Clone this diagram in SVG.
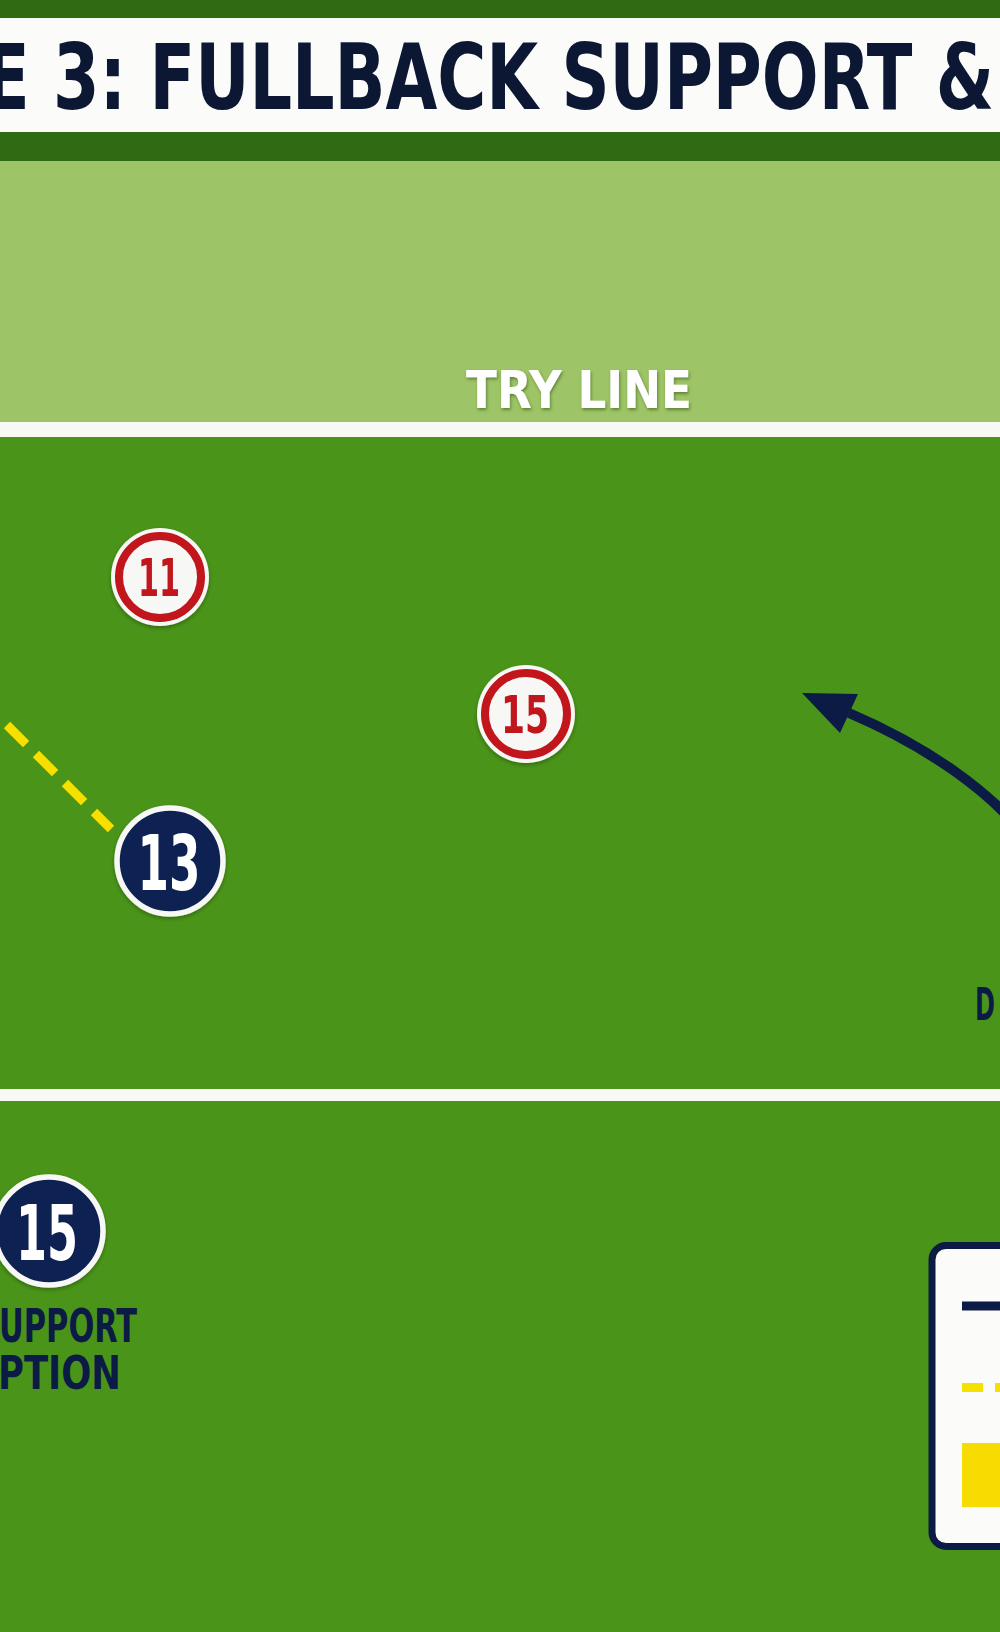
<svg xmlns="http://www.w3.org/2000/svg" width="1000" height="1632" viewBox="0 0 1000 1632">
  <defs>
    <style>
      .cond { font-family: "Liberation Sans Narrow", "DejaVu Sans Condensed", "Liberation Sans", sans-serif; font-weight: bold; }
      .navy-txt { fill: #0c1b45; }
      .red-txt { fill: #c0121c; }
      .white-txt { fill: #ffffff; }
      .ring-white { fill: #f7f7f5; }
      .red-ring { fill: #f7f7f5; stroke: #c0121c; stroke-width: 8; }
      .navy-disc { fill: #0d2052; stroke: #f7f7f5; stroke-width: 5.5; }
      .pass { fill: none; stroke: #f6e000; stroke-width: 9; stroke-dasharray: 27 14; }
      .run { fill: none; stroke: #0c1b45; stroke-width: 10; }
    </style>
    <filter id="shadow" x="-30%" y="-30%" width="160%" height="160%">
      <feDropShadow dx="0" dy="2" stdDeviation="2" flood-color="#000" flood-opacity="0.3"/>
    </filter>
    <filter id="txtshadow" x="-10%" y="-20%" width="120%" height="150%">
      <feDropShadow dx="1" dy="2" stdDeviation="1.5" flood-color="#2d4d10" flood-opacity="0.55"/>
    </filter>
  </defs>

  <g id="field">
    <rect x="0" y="0" width="1000" height="1632" fill="#4a9519"/>
    <rect x="0" y="0" width="1000" height="161" fill="#2f6b12"/>
    <rect x="0" y="161" width="1000" height="261" fill="#9dc466"/>
    <rect x="0" y="422" width="1000" height="15" fill="#f8f8f4"/>
    <rect x="0" y="1089" width="1000" height="12" fill="#f8f8f4"/>
  </g>

  <g id="title">
    <rect x="0" y="18" width="1000" height="114" fill="#fbfbfa"/>
    <text class="cond" x="-16" y="109" font-size="90" fill="#0b1733" textLength="1010" lengthAdjust="spacingAndGlyphs">E 3: FULLBACK SUPPORT &amp;</text>
  </g>

  <g id="try-line-label">
    <text class="cond white-txt" x="466" y="408" font-size="51" textLength="226" lengthAdjust="spacingAndGlyphs" filter="url(#txtshadow)">TRY LINE</text>
  </g>

  <g id="connectors">
    <line class="pass" x1="-22" y1="696" x2="111" y2="829"/>
    <path class="run" d="M 1035 850 C 995 790, 919 743, 849 713"/>
    <polygon points="802,693 858,694 840,733" fill="#0c1b45"/>
  </g>

  <g id="node-red-11" filter="url(#shadow)">
    <circle class="ring-white" cx="160" cy="577" r="49"/>
    <circle class="red-ring" cx="160" cy="577" r="41"/>
    <text class="cond red-txt" x="159" y="596" font-size="52" text-anchor="middle" textLength="42" lengthAdjust="spacingAndGlyphs">11</text>
  </g>

  <g id="node-red-15" filter="url(#shadow)">
    <circle class="ring-white" cx="526" cy="714" r="49"/>
    <circle class="red-ring" cx="526" cy="714" r="41"/>
    <text class="cond red-txt" x="525" y="733" font-size="51" text-anchor="middle" textLength="48" lengthAdjust="spacingAndGlyphs">15</text>
  </g>

  <g id="node-navy-13" filter="url(#shadow)">
    <circle class="navy-disc" cx="170" cy="861" r="53"/>
    <text class="cond white-txt" x="169" y="890" font-size="76" text-anchor="middle" textLength="63" lengthAdjust="spacingAndGlyphs">13</text>
  </g>

  <g id="node-navy-15" filter="url(#shadow)">
    <circle class="navy-disc" cx="49" cy="1231" r="54"/>
    <text class="cond white-txt" x="47" y="1260" font-size="76" text-anchor="middle" textLength="62" lengthAdjust="spacingAndGlyphs">15</text>
  </g>

  <g id="label-support-option">
    <text class="cond navy-txt" x="-1" y="1342" font-size="47" textLength="138" lengthAdjust="spacingAndGlyphs">UPPORT</text>
    <text class="cond navy-txt" x="-2" y="1389" font-size="46" textLength="123" lengthAdjust="spacingAndGlyphs">PTION</text>
  </g>

  <g id="label-d">
    <text class="cond navy-txt" x="975" y="1020" font-size="45" textLength="20" lengthAdjust="spacingAndGlyphs">D</text>
  </g>

  <g id="legend">
    <rect x="932" y="1245.5" width="200" height="301" rx="14" fill="#fbfbf9" stroke="#0c1b45" stroke-width="7"/>
    <line x1="962" y1="1306" x2="1010" y2="1306" stroke="#0c1b45" stroke-width="9"/>
    <line x1="962" y1="1387.5" x2="1010" y2="1387.5" stroke="#f6e000" stroke-width="9" stroke-dasharray="21 12"/>
    <rect x="962" y="1443" width="60" height="64" fill="#f6dc00"/>
  </g>
</svg>
